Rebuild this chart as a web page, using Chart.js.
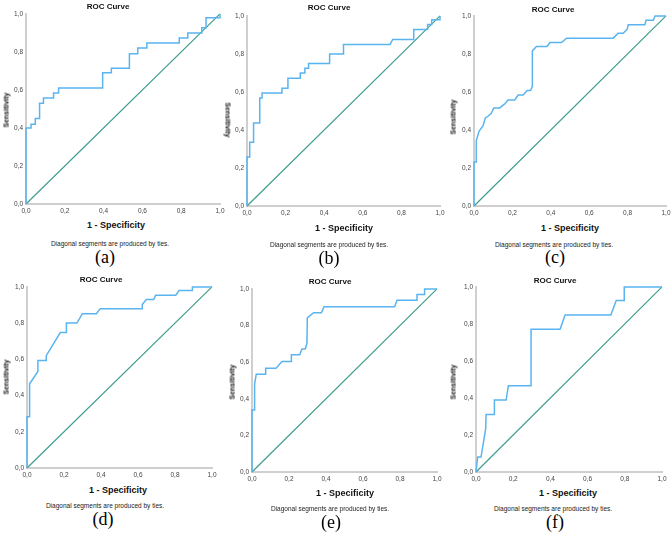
<!DOCTYPE html>
<html>
<head>
<meta charset="utf-8">
<script src="https://cdn.jsdelivr.net/npm/chart.js@4"></script>
<style>
body { margin: 0; background: #fff; width: 672px; height: 535px; position: relative; overflow: hidden; font-family: "Liberation Sans", Arial, sans-serif; }
canvas { position: absolute; }
.t { position: absolute; white-space: nowrap; transform: translate(-50%, -50%); color: #111; }
.title { font-size: 8px; font-weight: bold; }
.spec { font-size: 9px; font-weight: bold; }
.sens { font-size: 7px; font-weight: bold; }
.note { font-size: 6.5px; color: #222; }
.cap { font-family: "Liberation Serif", "Times New Roman", serif; font-size: 18px; color: #000; }
</style>
</head>
<body>
<script>
// tick values / labels
const tickValues = [0, 0.2, 0.4, 0.6, 0.8, 1.0];
const captions = ["(a)", "(b)", "(c)", "(d)", "(e)", "(f)"];
const chartTitle = "ROC Curve";
const xTitle = "1 - Specificity";
const yTitle = "Sensitivity";
const note = "Diagonal segments are produced by ties.";

// ROC curves (1 - specificity, sensitivity)
const rocA_x = [0,0,0.026,0.026,0.048,0.048,0.07,0.07,0.09,0.09,0.142,0.142,0.168,0.168,0.395,0.395,0.44,0.44,0.533,0.533,0.576,0.576,0.623,0.623,0.79,0.79,0.834,0.834,0.906,0.906,0.928,0.928,1,1];
const rocA_y = [0,0.40,0.40,0.42,0.42,0.45,0.45,0.53,0.53,0.557,0.557,0.584,0.584,0.61,0.61,0.69,0.69,0.714,0.714,0.79,0.79,0.82,0.82,0.847,0.847,0.873,0.873,0.90,0.90,0.927,0.927,0.98,0.98,1];

const rocB_x = [0,0,0.014,0.014,0.034,0.034,0.066,0.066,0.078,0.078,0.181,0.181,0.212,0.212,0.276,0.276,0.30,0.30,0.319,0.319,0.428,0.428,0.50,0.50,0.741,0.755,0.864,0.864,0.936,0.936,0.957,0.957,1,1];
const rocB_y = [0,0.258,0.258,0.336,0.336,0.437,0.437,0.568,0.568,0.594,0.594,0.62,0.62,0.672,0.672,0.70,0.70,0.725,0.725,0.75,0.75,0.80,0.80,0.85,0.85,0.876,0.876,0.928,0.928,0.955,0.955,0.98,0.98,1];

const rocC_x = [0,0,0.012,0.012,0.026,0.047,0.059,0.073,0.09,0.103,0.134,0.16,0.177,0.212,0.23,0.256,0.277,0.294,0.304,0.304,0.325,0.381,0.395,0.456,0.482,0.725,0.751,0.777,0.798,0.803,0.89,0.896,0.934,0.943,1];
const rocC_y = [0,0.231,0.231,0.344,0.393,0.423,0.463,0.472,0.488,0.516,0.516,0.537,0.558,0.558,0.584,0.584,0.607,0.607,0.628,0.816,0.839,0.839,0.86,0.86,0.883,0.883,0.909,0.909,0.93,0.953,0.953,0.977,0.977,1,1];

const rocD_x = [0,0,0.014,0.014,0.059,0.059,0.104,0.104,0.18,0.213,0.213,0.27,0.299,0.375,0.396,0.623,0.623,0.645,0.685,0.695,0.804,0.822,0.894,0.894,1];
const rocD_y = [0,0.283,0.283,0.465,0.533,0.593,0.593,0.62,0.748,0.748,0.80,0.80,0.852,0.852,0.88,0.88,0.903,0.93,0.93,0.954,0.954,0.98,0.98,1,1];

const rocE_x = [0,0,0.014,0.014,0.023,0.074,0.074,0.13,0.162,0.213,0.213,0.258,0.27,0.288,0.297,0.299,0.333,0.375,0.389,0.771,0.784,0.892,0.892,0.933,0.933,1];
const rocE_y = [0,0.339,0.339,0.48,0.534,0.534,0.567,0.567,0.603,0.603,0.64,0.64,0.672,0.672,0.703,0.842,0.87,0.87,0.902,0.902,0.938,0.938,0.969,0.969,1,1];

const rocF_x = [0,0.009,0.027,0.052,0.054,0.099,0.099,0.162,0.174,0.296,0.296,0.452,0.479,0.725,0.754,0.797,0.797,1];
const rocF_y = [0,0.081,0.081,0.233,0.31,0.31,0.389,0.389,0.466,0.466,0.771,0.771,0.848,0.848,0.927,0.927,1,1];

const refLine_x = [0, 1];
const refLine_y = [0, 1];

const curves = [[rocA_x, rocA_y], [rocB_x, rocB_y], [rocC_x, rocC_y], [rocD_x, rocD_y], [rocE_x, rocE_y], [rocF_x, rocF_y]];

// panel layout in page pixels: plot box + text centres
const panels = [
  { l: 26, t: 13, w: 194, h: 191, title: [108, 6], sens: [6, 110, -90], spec: [116, 225], note: [110, 243], cap: [105, 257] },
  { l: 247, t: 15, w: 193, h: 191, title: [329, 7], sens: [228, 120, 90], spec: [344, 227.5], note: [329, 243.5], cap: [329, 258] },
  { l: 474, t: 15, w: 192, h: 191, title: [553, 9], sens: [453, 117, -90], spec: [570, 227.5], note: [554, 243.5], cap: [555, 257] },
  { l: 27, t: 286, w: 185, h: 182, title: [101, 279], sens: [6, 377, -90], spec: [118, 490], note: [105, 504.5], cap: [103, 518.5] },
  { l: 252, t: 288, w: 185, h: 184, title: [330, 281], sens: [232, 382, -90], spec: [345, 492.5], note: [330, 507.5], cap: [331, 522] },
  { l: 476, t: 286, w: 186, h: 186, title: [555, 280], sens: [453, 382, -90], spec: [568, 492.5], note: [553, 507.5], cap: [555, 522] }
];

const ML = 20, MT = 6, MR = 10, MB = 14;

function addText(cls, text, x, y, rot) {
  const d = document.createElement("div");
  d.className = "t " + cls;
  d.textContent = text;
  d.style.left = x + "px";
  d.style.top = y + "px";
  if (rot) d.style.transform = "translate(-50%, -50%) rotate(" + rot + "deg)";
  document.body.appendChild(d);
}

function toPoints(xs, ys) {
  return xs.map((x, i) => ({ x: x, y: ys[i] }));
}

function axis(fit) {
  return {
    type: "linear",
    min: 0,
    max: 1,
    afterFit: fit,
    grid: { display: false, drawTicks: false },
    border: { display: true, color: "#cfcfcf", width: 2 },
    afterBuildTicks: s => { s.ticks = tickValues.map(v => ({ value: v })); },
    ticks: {
      padding: 3,
      color: "#444",
      font: { family: "Liberation Sans", size: 6.5 },
      callback: v => v.toFixed(1).replace(".", ",")
    }
  };
}

panels.forEach((p, i) => {
  const c = document.createElement("canvas");
  const cw = p.w + ML + MR, ch = p.h + MT + MB;
  c.width = cw;
  c.height = ch;
  c.style.width = cw + "px";
  c.style.height = ch + "px";
  c.style.left = (p.l - ML) + "px";
  c.style.top = (p.t - MT) + "px";
  document.body.appendChild(c);

  new Chart(c.getContext("2d"), {
    type: "line",
    data: {
      datasets: [{
        data: toPoints(curves[i][0], curves[i][1]),
        borderColor: "#5ab4ef",
        borderWidth: 1.5,
        pointRadius: 0,
        tension: 0,
        clip: false
      }, {
        data: toPoints(refLine_x, refLine_y),
        borderColor: "#3f9d8e",
        borderWidth: 1.2,
        pointRadius: 0,
        tension: 0,
        clip: false
      }]
    },
    options: {
      responsive: false,
      animation: false,
      devicePixelRatio: 1,
      layout: { padding: { left: 0, top: MT, right: MR, bottom: 0 } },
      plugins: { legend: { display: false }, tooltip: { enabled: false } },
      scales: {
        x: axis(s => { s.height = MB; }),
        y: axis(s => { s.width = ML; })
      }
    }
  });

  addText("title", chartTitle, p.title[0], p.title[1]);
  addText("sens", yTitle, p.sens[0], p.sens[1], p.sens[2]);
  addText("spec", xTitle, p.spec[0], p.spec[1]);
  addText("note", note, p.note[0], p.note[1]);
  addText("cap", captions[i], p.cap[0], p.cap[1]);
});
</script>
</body>
</html>
